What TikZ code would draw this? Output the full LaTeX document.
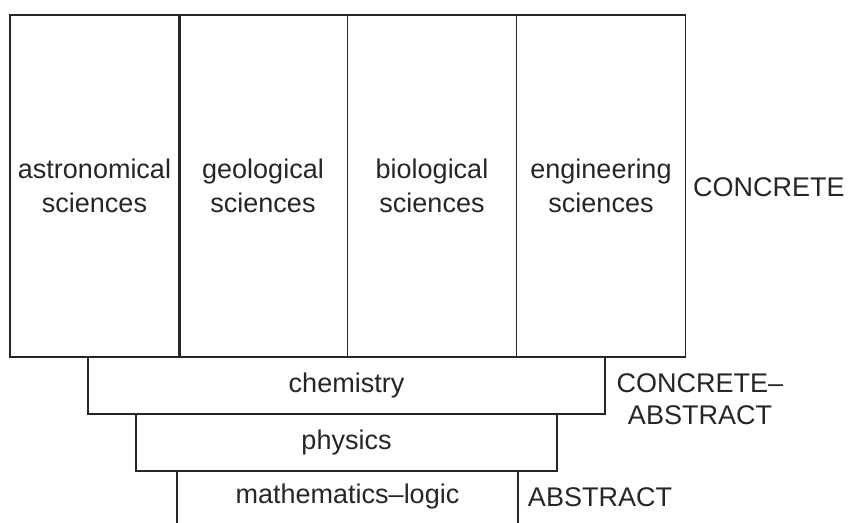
\documentclass[tikz,border=0pt]{standalone}
\usepackage{fontspec}
\setmainfont{Liberation Sans}

\tikzset{
  field/.style={draw, line width=1.6pt, minimum width=169pt, minimum height=342pt,
    inner sep=0pt, align=center, font=\fontsize{27}{34}\selectfont},
  layer/.style={draw, line width=1.6pt, inner sep=0pt, minimum height=57pt,
    text height=14pt, text depth=0pt, font=\fontsize{27}{34}\selectfont},
  level/.style={inner sep=0pt, align=center, font=\fontsize{27}{32}\selectfont}
}

\begin{document}
\begin{tikzpicture}[x=1pt,y=-1pt,color=black!85]
  \useasboundingbox (0,0) rectangle (851,522);

  % the concrete sciences
  \node[field] (astro) at (94.5,186) {astronomical\\sciences};
  \node[field] (geo)   at (263,186) {geological\\sciences};
  \node[field] (bio)   at (432,186) {biological\\sciences};
  \node[field] (eng)   at (601,186) {engineering\\sciences};
  \draw[line width=2.6pt] (astro.north east) -- (astro.south east);

  % the layers below
  \node[layer, minimum width=517pt] (chem) at (346.5,385.5) {chemistry};
  \node[layer, minimum width=421pt] (phys) at (346.5,442.5) {physics};
  \node[layer, draw=none, minimum width=339pt, minimum height=51pt] (math)
    at (347.5,496.5) {mathematics--logic};
  \draw[line width=2.2pt] (math.north west) -- (math.south west);
  \draw[line width=1.6pt] (math.north east) -- (math.south east);

  % levels of abstraction
  \node[level, anchor=west] (concrete) at (693,187) {CONCRETE};
  \node[level] (concabs) at (700,399) {CONCRETE--\\ABSTRACT};
  \node[level] (abstract) at (600,497) {ABSTRACT};
\end{tikzpicture}
\end{document}
